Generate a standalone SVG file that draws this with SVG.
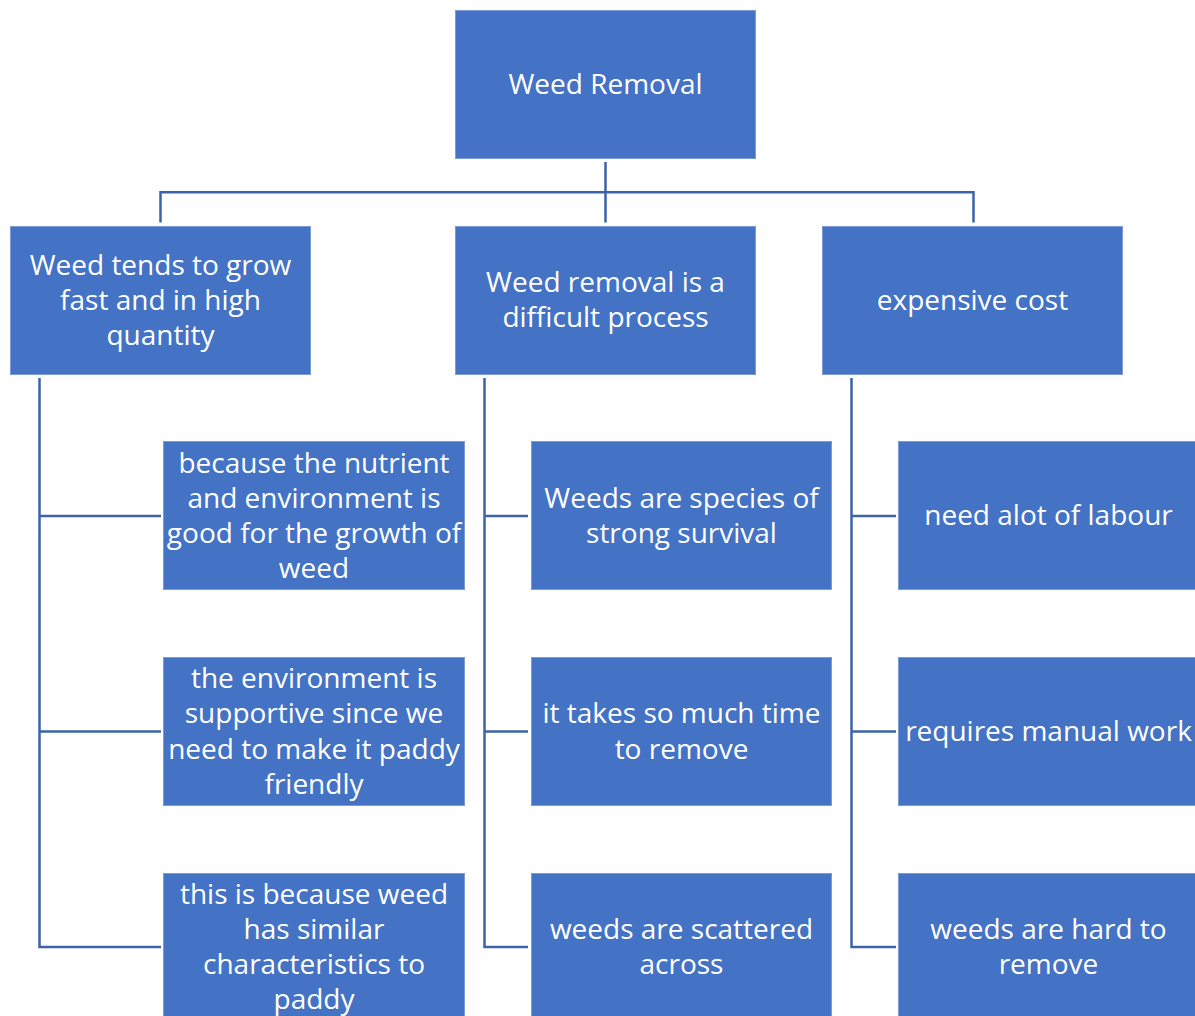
<svg xmlns="http://www.w3.org/2000/svg" width="1195" height="1016" viewBox="0 0 1195 1016">
<style>
.box{fill:#4472C4;stroke:#7C9BD6;stroke-width:1}
.t{font-family:"Open Sans","Noto Sans",sans-serif;font-size:28px;fill:#FFFFFF;text-anchor:middle}
.c{fill:none;stroke:#3D63A8;stroke-width:2.5}
</style>
<rect width="1195" height="1016" fill="#FFFFFF"/>
<g id="connectors">
<path class="c" d="M605.5 162V222.5M160.5 222.5V192.3H973.5V222.5"/>
<path class="c" d="M39.5 378V947H161M39.5 516H161M39.5 731.5H161"/>
<path class="c" d="M484.5 378V947H528M484.5 516H528M484.5 731.5H528"/>
<path class="c" d="M851.5 378V947H896M851.5 516H896M851.5 731.5H896"/>
</g>
<g id="root"><rect class="box" x="455.5" y="10.5" width="300" height="148"/><text class="t" x="605.5" y="94">Weed Removal</text></g>
<g id="n1"><rect class="box" x="10.5" y="226.5" width="300" height="148"/><text class="t" x="160.5" y="275">Weed tends to grow</text><text class="t" x="160.5" y="310">fast and in high</text><text class="t" x="160.5" y="345">quantity</text></g>
<g id="n2"><rect class="box" x="455.5" y="226.5" width="300" height="148"/><text class="t" x="605.5" y="292">Weed removal is a</text><text class="t" x="605.5" y="327">difficult process</text></g>
<g id="n3"><rect class="box" x="822.5" y="226.5" width="300" height="148"/><text class="t" x="972.5" y="310">expensive cost</text></g>
<g id="n1a"><rect class="box" x="163.5" y="441.5" width="301" height="148"/><text class="t" x="314" y="473">because the nutrient</text><text class="t" x="314" y="508">and environment is</text><text class="t" x="314" y="543">good for the growth of</text><text class="t" x="314" y="578">weed</text></g>
<g id="n1b"><rect class="box" x="163.5" y="657.5" width="301" height="148"/><text class="t" x="314" y="688">the environment is</text><text class="t" x="314" y="723">supportive since we</text><text class="t" x="314" y="759">need to make it paddy</text><text class="t" x="314" y="794">friendly</text></g>
<g id="n1c"><rect class="box" x="163.5" y="873.5" width="301" height="148"/><text class="t" x="314" y="904">this is because weed</text><text class="t" x="314" y="939">has similar</text><text class="t" x="314" y="974">characteristics to</text><text class="t" x="314" y="1009">paddy</text></g>
<g id="n2a"><rect class="box" x="531.5" y="441.5" width="300" height="148"/><text class="t" x="681.5" y="508">Weeds are species of</text><text class="t" x="681.5" y="543">strong survival</text></g>
<g id="n2b"><rect class="box" x="531.5" y="657.5" width="300" height="148"/><text class="t" x="681.5" y="723">it takes so much time</text><text class="t" x="681.5" y="759">to remove</text></g>
<g id="n2c"><rect class="box" x="531.5" y="873.5" width="300" height="148"/><text class="t" x="681.5" y="939">weeds are scattered</text><text class="t" x="681.5" y="974">across</text></g>
<g id="n3a"><rect class="box" x="898.5" y="441.5" width="300" height="148"/><text class="t" x="1048.5" y="525">need alot of labour</text></g>
<g id="n3b"><rect class="box" x="898.5" y="657.5" width="300" height="148"/><text class="t" x="1048.5" y="741">requires manual work</text></g>
<g id="n3c"><rect class="box" x="898.5" y="873.5" width="300" height="148"/><text class="t" x="1048.5" y="939">weeds are hard to</text><text class="t" x="1048.5" y="974">remove</text></g>
</svg>
